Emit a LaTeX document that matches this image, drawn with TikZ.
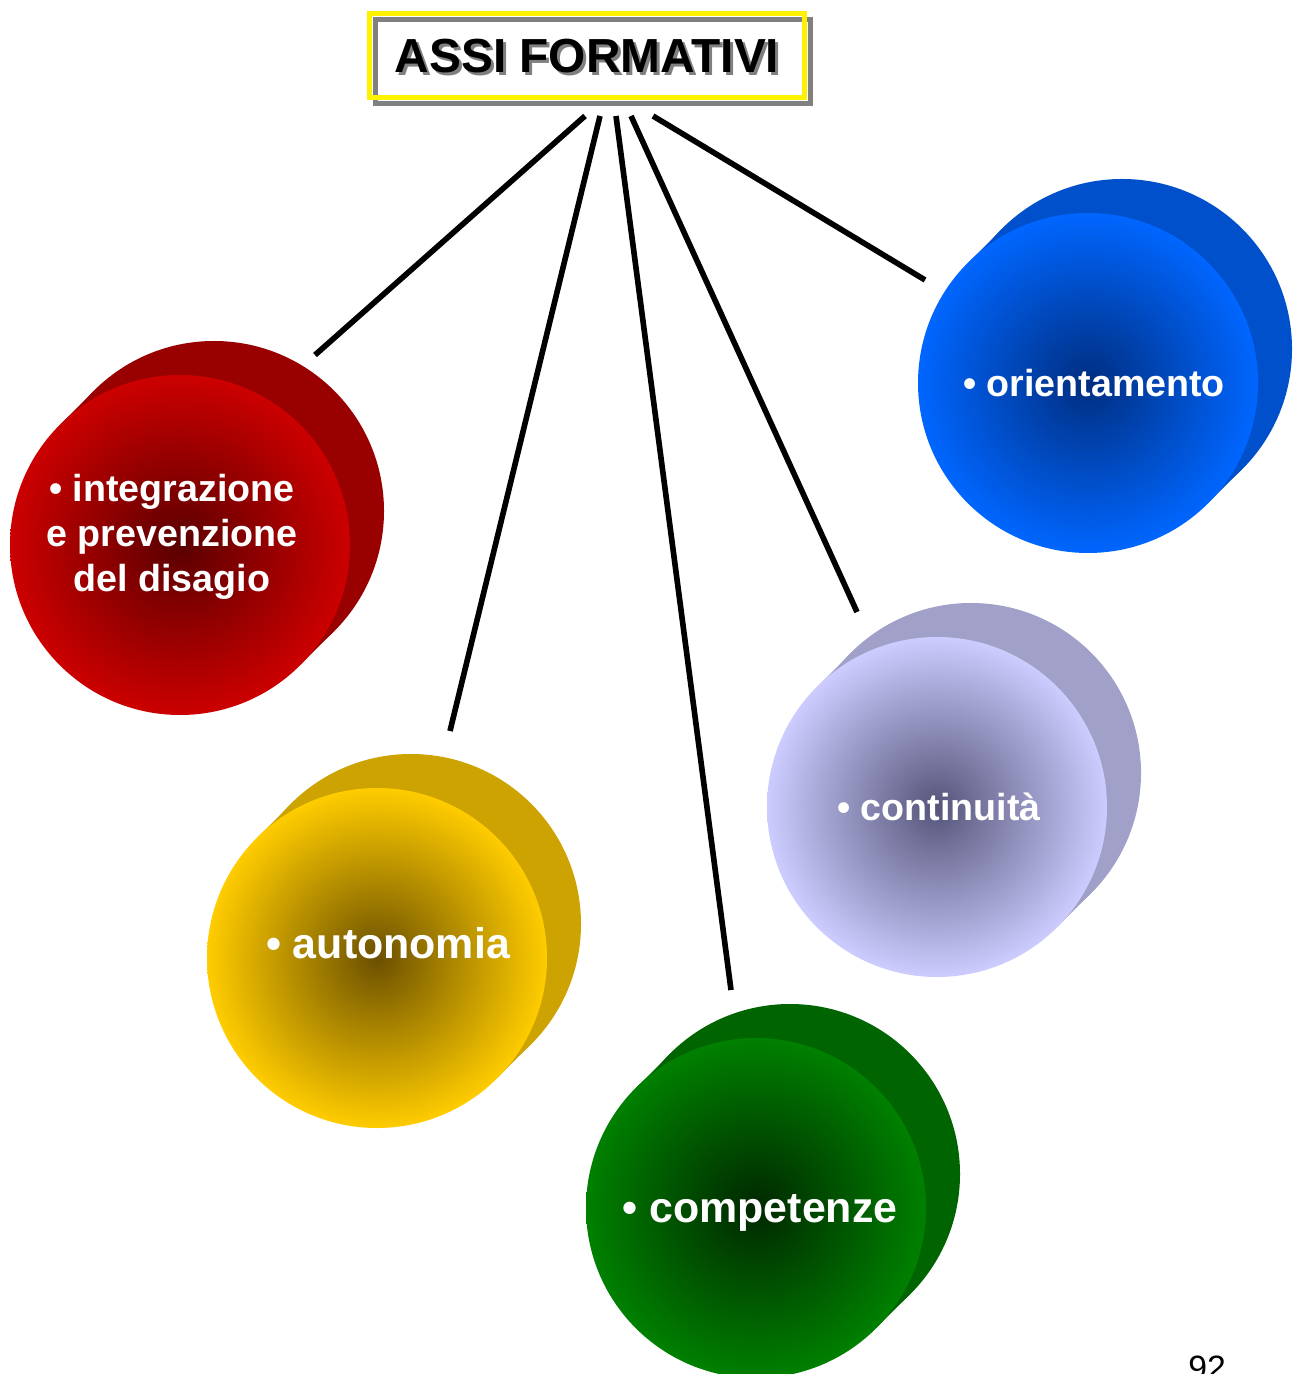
\documentclass[tikz,border=0pt]{standalone}
\usepackage{fontspec}
\setmainfont{Liberation Sans}
\usepackage{tikz}

\definecolor{redf}{HTML}{CC0000}
\definecolor{redc}{HTML}{5A0000}
\definecolor{redb}{HTML}{990000}
\definecolor{bluf}{HTML}{0066FF}
\definecolor{bluc}{HTML}{002E80}
\definecolor{blub}{HTML}{0050CC}
\definecolor{yelf}{HTML}{FFCC00}
\definecolor{yelc}{HTML}{6B5000}
\definecolor{yelb}{HTML}{CCA300}
\definecolor{grnf}{HTML}{008000}
\definecolor{grnc}{HTML}{002800}
\definecolor{grnb}{HTML}{006400}
\definecolor{lavf}{HTML}{CCCCFF}
\definecolor{lavc}{HTML}{55557A}
\definecolor{lavb}{HTML}{A0A0C8}

\begin{document}
\begin{tikzpicture}[x=0.01cm,y=-0.01cm,
  link/.style = {line width=1.6pt},
  lbl/.style = {text=white,align=center,font=\bfseries\fontsize{10.7}{12.8}\selectfont},
  big/.style = {text=white,align=center,font=\bfseries\fontsize{12.2}{14.5}\selectfont},
  ttl/.style = {font=\bfseries\fontsize{13.6}{16}\selectfont}]
\useasboundingbox (0,0) rectangle (1300,1374);
\fill[white] (0,0) rectangle (1300,1374);

% title box
\draw[gray,line width=1.45pt] (375.5,19.5) rectangle (810.5,103.5);
\draw[yellow,line width=1.45pt] (369.5,13.5) rectangle (804.5,97.5);
\node[ttl,text=gray] (tshad) at (590,59) {ASSI FORMATIVI};
\node[ttl] (title) at (587,56) {ASSI FORMATIVI};

% integrazione
\fill[redb] (214,511) circle (170);
\fill[redb] (180,545) ++(120,120) -- ++(34,-34) -- ++(-240,-240) -- ++(-34,34) -- cycle;
\shade[inner color=redc,outer color=redf] (180,545) circle (170);
\node[lbl] (integr) at (172,537) {• integrazione\\e prevenzione\\del disagio};

% autonomia
\fill[yelb] (411,924) circle (170);
\fill[yelb] (377,958) ++(120,120) -- ++(34,-34) -- ++(-240,-240) -- ++(-34,34) -- cycle;
\shade[inner color=yelc,outer color=yelf] (377,958) circle (170);
\node[big] (auton) at (388,943) {• autonomia};

% competenze
\fill[grnb] (790,1174) circle (170);
\fill[grnb] (756,1208) ++(120,120) -- ++(34,-34) -- ++(-240,-240) -- ++(-34,34) -- cycle;
\shade[inner color=grnc,outer color=grnf] (756,1208) circle (170);
\node[big] (compet) at (760,1213) {• competenze};

% continuita
\fill[lavb] (971,773) circle (170);
\fill[lavb] (937,807) ++(120,120) -- ++(34,-34) -- ++(-240,-240) -- ++(-34,34) -- cycle;
\shade[inner color=lavc,outer color=lavf] (937,807) circle (170);
\node[lbl] (contin) at (939,807) {• continuità};

% orientamento
\fill[blub] (1122,349) circle (170);
\fill[blub] (1088,383) ++(120,120) -- ++(34,-34) -- ++(-240,-240) -- ++(-34,34) -- cycle;
\shade[inner color=bluc,outer color=bluf] (1088,383) circle (170);
\node[lbl] (orient) at (1094,383) {• orientamento};

% connectors
\coordinate (s1) at (585,116);
\coordinate (s2) at (600,116);
\coordinate (s3) at (616,116);
\coordinate (s4) at (631,116);
\coordinate (s5) at (653,116);
\coordinate (e1) at (315,355);
\coordinate (e2) at (450,731);
\coordinate (e3) at (731,990);
\coordinate (e4) at (857,612);
\coordinate (e5) at (925,280);
\draw[link] (s1) -- (e1);
\draw[link] (s2) -- (e2);
\draw[link] (s3) -- (e3);
\draw[link] (s4) -- (e4);
\draw[link] (s5) -- (e5);

\node[anchor=base,font=\fontsize{9.6}{11}\selectfont] (pnum) at (1207,1379) {92};
\end{tikzpicture}
\end{document}
